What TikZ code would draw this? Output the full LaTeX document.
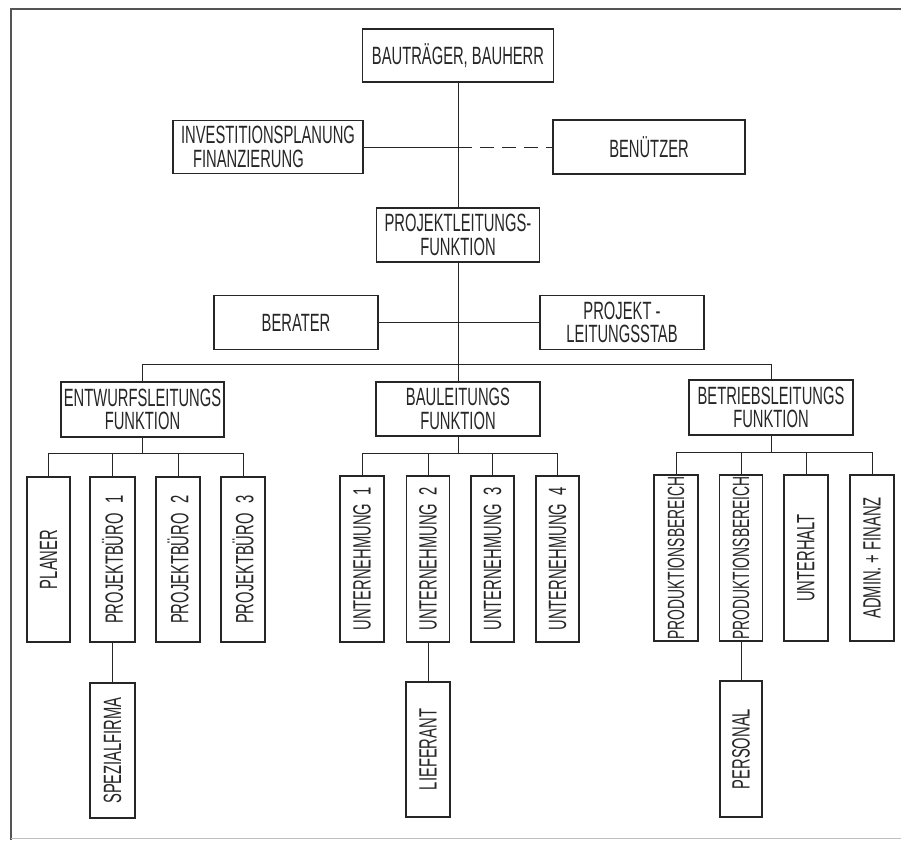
\documentclass[tikz,border=0pt]{standalone}
\usepackage{fontspec}
\setmainfont[FakeStretch=0.59]{Liberation Sans}
\definecolor{ink}{HTML}{262626}
\definecolor{framec}{HTML}{555555}
\begin{document}
\begin{tikzpicture}[x=1pt,y=-1pt,
  box/.style={draw=ink, line width=1.3pt, inner sep=0pt, align=center, text=ink,
    font=\fontsize{25}{23.5}\selectfont},
  vbox/.style={box, rotate=90},
  link/.style={draw=ink, line width=0.9pt},
  dashlink/.style={link, dash pattern=on 14pt off 8pt}]
\useasboundingbox (0,0) rectangle (901,840);
% frame
\draw[framec, line width=1.5pt] (901,9) -- (11,9) -- (11,840);
\draw[black!25, line width=1pt] (11,838.5) -- (901,838.5);

% top level
\node[box, minimum width=191pt, minimum height=53pt] (bauherr) at (458,55.5) {BAUTRÄGER, BAUHERR};
\node[box, minimum width=190pt, minimum height=53pt, align=left] (invest) at (268,147) {INVESTITIONSPLANUNG\\\hspace*{12pt}FINANZIERUNG};
\node[box, minimum width=192pt, minimum height=54pt] (benutzer) at (649,147) {BENÜTZER};
\node[box, minimum width=163pt, minimum height=54pt] (projleit) at (458,235) {PROJEKTLEITUNGS-\\FUNKTION};
\node[box, minimum width=164pt, minimum height=54pt] (berater) at (296,322.5) {BERATER};
\node[box, minimum width=164pt, minimum height=54pt] (stab) at (622,322.5) {PROJEKT -\\LEITUNGSSTAB};
\node[box, minimum width=163pt, minimum height=55pt] (entwurf) at (142.5,409.5) {ENTWURFSLEITUNGS\\FUNKTION};
\node[box, minimum width=164pt, minimum height=54pt] (bau) at (458,409) {BAULEITUNGS\\FUNKTION};
\node[box, minimum width=164pt, minimum height=55pt] (betrieb) at (771,407.5) {BETRIEBSLEITUNGS\\FUNKTION};

% vertical boxes: Entwurf
\node[vbox, minimum width=165pt, minimum height=43pt] (planer) at (48.5,559.5) {PLANER};
\node[vbox, minimum width=165pt, minimum height=45pt] (pb1) at (112.5,559.5) {PROJEKTBÜRO\hspace{10pt}1};
\node[vbox, minimum width=165pt, minimum height=44pt] (pb2) at (178,559.5) {PROJEKTBÜRO\hspace{10pt}2};
\node[vbox, minimum width=165pt, minimum height=44pt] (pb3) at (243,559.5) {PROJEKTBÜRO\hspace{10pt}3};
\node[vbox, minimum width=135pt, minimum height=45pt] (spezial) at (112.5,750.5) {SPEZIALFIRMA};

% Bau
\node[vbox, minimum width=166pt, minimum height=44pt] (u1) at (362,559) {UNTERNEHMUNG\hspace{8pt}1};
\node[vbox, minimum width=166pt, minimum height=43pt] (u2) at (428,559) {UNTERNEHMUNG\hspace{8pt}2};
\node[vbox, minimum width=166pt, minimum height=43pt] (u3) at (492.5,559) {UNTERNEHMUNG\hspace{8pt}3};
\node[vbox, minimum width=166pt, minimum height=43pt] (u4) at (557.5,559) {UNTERNEHMUNG\hspace{8pt}4};
\node[vbox, minimum width=135pt, minimum height=44pt] (lieferant) at (428,749.5) {LIEFERANT};

% Betrieb
\node[vbox, minimum width=166pt, minimum height=44pt, font=\fontsize{23.5}{22}\selectfont] (pba) at (676,558) {PRODUKTIONSBEREICH};
\node[vbox, minimum width=166pt, minimum height=43pt, font=\fontsize{23.5}{22}\selectfont] (pbb) at (741,558) {PRODUKTIONSBEREICH};
\node[vbox, minimum width=166pt, minimum height=44pt] (unterhalt) at (806,558) {UNTERHALT};
\node[vbox, minimum width=166pt, minimum height=44pt] (admin) at (872,558) {ADMIN.\hspace{4pt}+\hspace{4pt}FINANZ};
\node[vbox, minimum width=136pt, minimum height=42pt] (personal) at (741,749) {PERSONAL};

% connectors
\draw[link] (bauherr.south) -- (projleit.north);
\draw[link] (projleit.south) -- (bau.north);
\coordinate (j1) at (bauherr.south |- invest.east);
\draw[link] (invest.east) -- (j1);
\draw[dashlink] (j1) -- (benutzer.west);
\draw[link] (berater.east) -- (stab.west);
\draw[link] (entwurf.north) -- ++(0,-17) -| (betrieb.north);

\draw[link] (entwurf.south) -- ++(0,16) coordinate (eb);
\foreach \n in {planer,pb1,pb2,pb3} \draw[link] (eb) -| (\n.east);
\draw[link] (pb1.west) -- (spezial.east);

\draw[link] (bau.south) -- ++(0,17) coordinate (bb);
\foreach \n in {u1,u2,u3,u4} \draw[link] (bb) -| (\n.east);
\draw[link] (u2.west) -- (lieferant.east);

\draw[link] (betrieb.south) -- ++(0,17) coordinate (tb);
\foreach \n in {pba,pbb,unterhalt,admin} \draw[link] (tb) -| (\n.east);
\draw[link] (pbb.west) -- (personal.east);
\end{tikzpicture}
\end{document}
